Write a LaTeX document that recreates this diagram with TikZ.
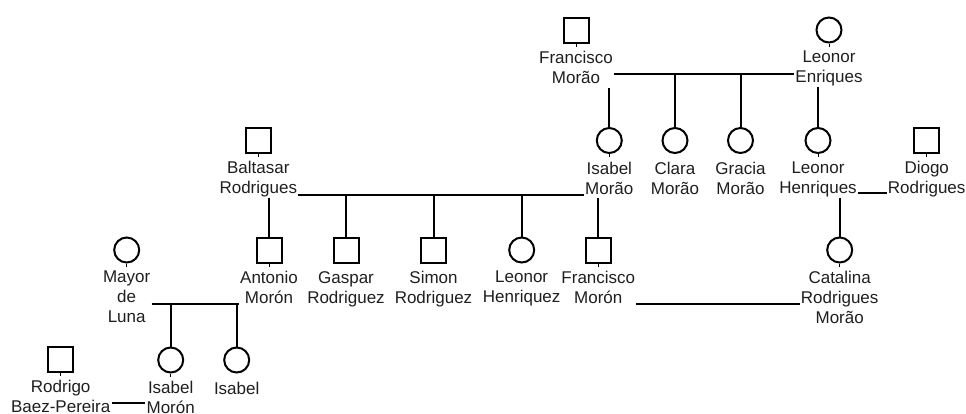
\documentclass[tikz,border=0pt]{standalone}
\usepackage{fontspec}
\setmainfont{Liberation Sans}
\begin{document}
\begin{tikzpicture}[x=1pt,y=-1pt,
  male/.style={draw, line width=2pt, rectangle, minimum size=25pt, inner sep=0pt},
  female/.style={draw, line width=2pt, circle, minimum size=25pt, inner sep=0pt},
  lbl/.style={align=center, inner xsep=1pt, inner ysep=0pt, anchor=north, text=black!88,
    font=\fontsize{17}{20}\selectfont,
    execute at begin node=\rule{0pt}{13pt},
    execute at end node=\rule[-4pt]{0pt}{4pt}},
  link/.style={line width=2pt},
  stub/.style={line width=1pt}]
\fill[white] (0,0) rectangle (966,413);
\useasboundingbox (0,0) rectangle (966,413);

% people: symbol and name beneath it
\newcommand\person[5]{%
  \node[#1] (#2S) at (#3,#4) {};
  \node[lbl] (#2L) at ([yshift=-7.5pt]#2S.south) {#5};}
\person{male}{fm}{576}{30}{Francisco\\Morão}
\person{female}{le}{829}{30}{Leonor\\Enriques}
\person{male}{br}{258.3}{140}{Baltasar\\Rodrigues}
\person{female}{im}{609.3}{140.5}{Isabel\\Morão}
\person{female}{cm}{675}{140.5}{Clara\\Morão}
\person{female}{gm}{740.5}{140.5}{Gracia\\Morão}
\person{female}{lh}{818}{140.5}{Leonor\\Henriques}
\person{male}{dr}{926.7}{140}{Diogo\\Rodrigues}
\person{female}{ml}{126.7}{250}{Mayor\\de\\Luna}
\person{male}{am}{269}{250}{Antonio\\Morón}
\person{male}{gs}{346}{250}{Gaspar\\Rodriguez}
\person{male}{sr}{433.5}{250}{Simon\\Rodriguez}
\person{female}{lz}{521.7}{250}{Leonor\\Henriquez}
\person{male}{fn}{598.3}{250}{Francisco\\Morón}
\person{female}{ct}{839.7}{250}{Catalina\\Rodrigues\\Morão}
\person{male}{rb}{60.7}{359}{Rodrigo\\Baez-Pereira}
\person{female}{in}{170.7}{360}{Isabel\\Morón}
\person{female}{is}{236.7}{360}{Isabel}

% short ticks under the married ones
\foreach \p in {fm,le,br,im,lh,dr,ml,am,fn,ct,rb,in}
  \draw[stub] (\p S.south) -- ++(0,3);

% heights of the marriage bars
\coordinate (barA) at (0,74);
\coordinate (barB) at (0,195);
\coordinate (barC) at (0,193);
\coordinate (barD) at (0,304);
\coordinate (barE) at (0,304);
\coordinate (barF) at (0,403);

% Francisco Morão + Leonor Enriques
\draw[link] (fmL.east |- barA) -- (leL.west |- barA);
\draw[link] (imS.north |- fmL.south) -- (imS.north);
\draw[link] (cmS.north |- barA) -- (cmS.north);
\draw[link] (gmS.north |- barA) -- (gmS.north);
\draw[link] (lhS.north |- leL.south) -- (lhS.north);

% Baltasar Rodrigues + Isabel Morão
\draw[link] (brL.east |- barB) -- (imL.west |- barB);
\draw[link] (amS.north |- brL.south) -- (amS.north);
\draw[link] (gsS.north |- barB) -- (gsS.north);
\draw[link] (srS.north |- barB) -- (srS.north);
\draw[link] (lzS.north |- barB) -- (lzS.north);
\draw[link] (fnS.north |- imL.south) -- (fnS.north);

% Leonor Henriques + Diogo Rodrigues
\draw[link] (lhL.east |- barC) -- (drL.west |- barC);
\draw[link] (ctS.north |- lhL.south) -- (ctS.north);

% Francisco Morón + Catalina Rodrigues Morão
\draw[link] (fnL.east |- barD) -- (ctL.west |- barD);

% Mayor de Luna + Antonio Morón
\draw[link] (mlL.east |- barE) -- (amL.west |- barE);
\draw[link] (inS.north |- barE) -- (inS.north);
\draw[link] (isS.north |- barE) -- (isS.north);

% Rodrigo Baez-Pereira + Isabel Morón
\draw[link] (rbL.east |- barF) -- (inL.west |- barF);
\end{tikzpicture}
\end{document}
